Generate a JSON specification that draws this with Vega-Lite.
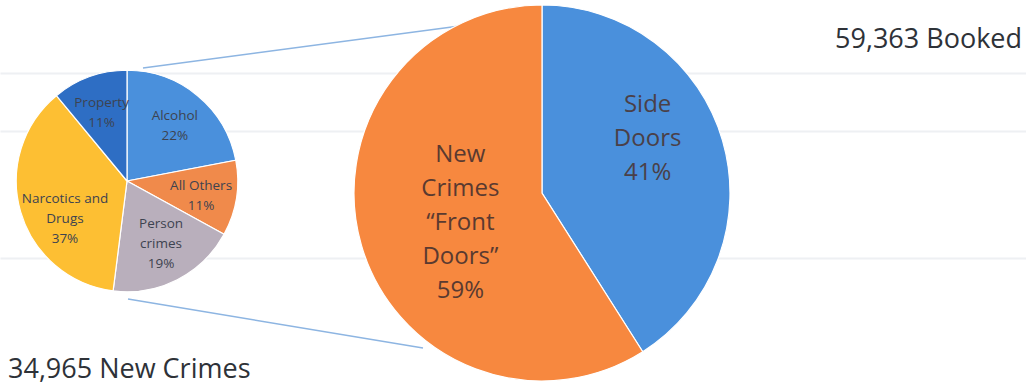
{
  "$schema": "https://vega.github.io/schema/vega-lite/v6.json",
  "width": 1026,
  "height": 385,
  "padding": 0,
  "autosize": {"type": "fit", "contains": "padding"},
  "background": "#ffffff",
  "config": {"view": {"stroke": null}, "font": "Open Sans"},
  "datasets": {
    "newCrimes": [
      {"pie": "New Crimes", "rank": 1, "category": "Alcohol", "percent": 22, "label": "Alcohol\n22%", "total": 34965},
      {"pie": "New Crimes", "rank": 2, "category": "All Others", "percent": 11, "label": "All Others\n11%", "total": 34965},
      {"pie": "New Crimes", "rank": 3, "category": "Person crimes", "percent": 19, "label": "Person\ncrimes\n19%", "total": 34965},
      {"pie": "New Crimes", "rank": 4, "category": "Narcotics and Drugs", "percent": 37, "label": "Narcotics and\nDrugs\n37%", "total": 34965},
      {"pie": "New Crimes", "rank": 5, "category": "Property", "percent": 11, "label": "Property\n11%", "total": 34965}
    ],
    "booked": [
      {"pie": "Booked", "rank": 1, "category": "Side Doors", "percent": 41, "label": "Side\nDoors\n41%", "total": 59363},
      {"pie": "Booked", "rank": 2, "category": "New Crimes “Front Doors”", "percent": 59, "label": "New\nCrimes\n“Front\nDoors”\n59%", "total": 59363}
    ],
    "totals": [
      {"pie": "Booked", "total": 59363, "label": "59,363 Booked"},
      {"pie": "New Crimes", "total": 34965, "label": "34,965 New Crimes"}
    ],
    "links": [
      {"link": "upper", "x": 143, "y": 68, "x2": 467, "y2": 25},
      {"link": "lower", "x": 128, "y": 299, "x2": 423, "y2": 348}
    ]
  },
  "resolve": {"scale": {"x": "independent", "y": "independent"}},
  "layer": [
    {
      "data": {"name": "links"},
      "mark": {"type": "rule", "color": "#8db5e2", "strokeWidth": 1.5},
      "encoding": {
        "x": {"field": "x", "type": "quantitative", "scale": {"domain": [0, 1026], "nice": false, "zero": false}, "axis": null},
        "x2": {"field": "x2"},
        "y": {"field": "y", "type": "quantitative", "scale": {"domain": [0, 385], "nice": false, "zero": false, "reverse": true},
              "axis": {"values": [73, 131, 258], "grid": true, "gridColor": "#eef0f3", "gridWidth": 2, "domain": false, "ticks": false, "labels": false, "title": null}},
        "y2": {"field": "y2"}
      }
    },
    {
      "data": {"name": "newCrimes"},
      "mark": {"type": "arc", "stroke": "#ffffff", "strokeWidth": 1.2},
      "encoding": {
        "x": {"field": "pie", "type": "nominal", "scale": {"type": "point", "domain": ["New Crimes", "Booked"], "range": [127, 542], "padding": 0}, "axis": null},
        "y": {"field": "pie", "type": "nominal", "scale": {"type": "point", "domain": ["New Crimes", "Booked"], "range": [181, 193], "padding": 0}, "axis": null},
        "theta": {"field": "percent", "type": "quantitative", "stack": true},
        "order": {"field": "rank", "type": "quantitative"},
        "radius": {"field": "total", "type": "quantitative", "scale": {"type": "linear", "domain": [0, 59363], "range": [0, 188], "zero": true}},
        "color": {"field": "category", "type": "nominal", "legend": null,
          "scale": {"domain": ["Alcohol", "All Others", "Person crimes", "Narcotics and Drugs", "Property", "Side Doors", "New Crimes “Front Doors”"],
                    "range": ["#4a90dc", "#f08a4b", "#b9afbc", "#fdbf33", "#2e6ec4", "#4a90dc", "#f7883f"]}}
      }
    },
    {
      "data": {"name": "booked"},
      "mark": {"type": "arc", "stroke": "#ffffff", "strokeWidth": 1.2},
      "encoding": {
        "x": {"field": "pie", "type": "nominal", "scale": {"type": "point", "domain": ["New Crimes", "Booked"], "range": [127, 542], "padding": 0}, "axis": null},
        "y": {"field": "pie", "type": "nominal", "scale": {"type": "point", "domain": ["New Crimes", "Booked"], "range": [181, 193], "padding": 0}, "axis": null},
        "theta": {"field": "percent", "type": "quantitative", "stack": true},
        "order": {"field": "rank", "type": "quantitative"},
        "radius": {"field": "total", "type": "quantitative"},
        "color": {"field": "category", "type": "nominal", "legend": null}
      }
    },
    {
      "data": {"name": "newCrimes"},
      "mark": {"type": "text", "radius": 75, "dy": -7, "lineBreak": "\n", "fontSize": 13.5, "lineHeight": 20, "color": "#3d4350", "align": "center", "baseline": "middle"},
      "encoding": {
        "x": {"field": "pie", "type": "nominal", "scale": {"type": "point", "domain": ["New Crimes", "Booked"], "range": [127, 542], "padding": 0}, "axis": null},
        "y": {"field": "pie", "type": "nominal", "scale": {"type": "point", "domain": ["New Crimes", "Booked"], "range": [181, 193], "padding": 0}, "axis": null},
        "theta": {"field": "percent", "type": "quantitative", "stack": true},
        "order": {"field": "rank", "type": "quantitative"},
        "detail": {"field": "category", "type": "nominal"},
        "text": {"condition": {"test": "datum.category === 'Alcohol' || datum.category === 'All Others' || datum.category === 'Property'", "field": "label", "type": "nominal"}, "value": ""}
      }
    },
    {
      "data": {"name": "newCrimes"},
      "mark": {"type": "text", "radius": 75, "dy": -24, "lineBreak": "\n", "fontSize": 13.5, "lineHeight": 20, "color": "#3d4350", "align": "center", "baseline": "middle"},
      "encoding": {
        "x": {"field": "pie", "type": "nominal", "scale": {"type": "point", "domain": ["New Crimes", "Booked"], "range": [127, 542], "padding": 0}, "axis": null},
        "y": {"field": "pie", "type": "nominal", "scale": {"type": "point", "domain": ["New Crimes", "Booked"], "range": [181, 193], "padding": 0}, "axis": null},
        "theta": {"field": "percent", "type": "quantitative", "stack": true},
        "order": {"field": "rank", "type": "quantitative"},
        "detail": {"field": "category", "type": "nominal"},
        "text": {"condition": {"test": "datum.category === 'Person crimes'", "field": "label", "type": "nominal"}, "value": ""}
      }
    },
    {
      "data": {"name": "newCrimes"},
      "mark": {"type": "text", "radius": 75, "dx": 10, "dy": -3, "lineBreak": "\n", "fontSize": 13.5, "lineHeight": 20, "color": "#3d4350", "align": "center", "baseline": "middle"},
      "encoding": {
        "x": {"field": "pie", "type": "nominal", "scale": {"type": "point", "domain": ["New Crimes", "Booked"], "range": [127, 542], "padding": 0}, "axis": null},
        "y": {"field": "pie", "type": "nominal", "scale": {"type": "point", "domain": ["New Crimes", "Booked"], "range": [181, 193], "padding": 0}, "axis": null},
        "theta": {"field": "percent", "type": "quantitative", "stack": true},
        "order": {"field": "rank", "type": "quantitative"},
        "detail": {"field": "category", "type": "nominal"},
        "text": {"condition": {"test": "datum.category === 'Narcotics and Drugs'", "field": "label", "type": "nominal"}, "value": ""}
      }
    },
    {
      "data": {"name": "booked"},
      "mark": {"type": "text", "radius": 110, "dy": -57, "lineBreak": "\n", "fontSize": 24, "lineHeight": 34, "color": "#4a4048", "align": "center", "baseline": "middle"},
      "encoding": {
        "x": {"field": "pie", "type": "nominal", "scale": {"type": "point", "domain": ["New Crimes", "Booked"], "range": [127, 542], "padding": 0}, "axis": null},
        "y": {"field": "pie", "type": "nominal", "scale": {"type": "point", "domain": ["New Crimes", "Booked"], "range": [181, 193], "padding": 0}, "axis": null},
        "theta": {"field": "percent", "type": "quantitative", "stack": true},
        "order": {"field": "rank", "type": "quantitative"},
        "detail": {"field": "category", "type": "nominal"},
        "text": {"condition": {"test": "datum.category === 'Side Doors'", "field": "label", "type": "nominal"}, "value": ""}
      }
    },
    {
      "data": {"name": "booked"},
      "mark": {"type": "text", "radius": 85, "dy": -62, "lineBreak": "\n", "fontSize": 24, "lineHeight": 34, "color": "#5a3a30", "align": "center", "baseline": "middle"},
      "encoding": {
        "x": {"field": "pie", "type": "nominal", "scale": {"type": "point", "domain": ["New Crimes", "Booked"], "range": [127, 542], "padding": 0}, "axis": null},
        "y": {"field": "pie", "type": "nominal", "scale": {"type": "point", "domain": ["New Crimes", "Booked"], "range": [181, 193], "padding": 0}, "axis": null},
        "theta": {"field": "percent", "type": "quantitative", "stack": true},
        "order": {"field": "rank", "type": "quantitative"},
        "detail": {"field": "category", "type": "nominal"},
        "text": {"condition": {"test": "datum.category !== 'Side Doors'", "field": "label", "type": "nominal"}, "value": ""}
      }
    },
    {
      "data": {"name": "totals"},
      "transform": [{"filter": "datum.pie === 'Booked'"}],
      "mark": {"type": "text", "align": "right", "baseline": "alphabetic", "fontSize": 27, "color": "#2e3238"},
      "encoding": {
        "x": {"datum": 1022, "type": "quantitative", "scale": {"domain": [0, 1026], "nice": false, "zero": false}, "axis": null},
        "y": {"datum": 48, "type": "quantitative", "scale": {"domain": [0, 385], "nice": false, "zero": false, "reverse": true}, "axis": null},
        "text": {"field": "label", "type": "nominal"}
      }
    },
    {
      "data": {"name": "totals"},
      "transform": [{"filter": "datum.pie === 'New Crimes'"}],
      "mark": {"type": "text", "align": "left", "baseline": "alphabetic", "fontSize": 27, "color": "#2e3238"},
      "encoding": {
        "x": {"datum": 8, "type": "quantitative", "scale": {"domain": [0, 1026], "nice": false, "zero": false}, "axis": null},
        "y": {"datum": 378, "type": "quantitative", "scale": {"domain": [0, 385], "nice": false, "zero": false, "reverse": true}, "axis": null},
        "text": {"field": "label", "type": "nominal"}
      }
    }
  ]
}
